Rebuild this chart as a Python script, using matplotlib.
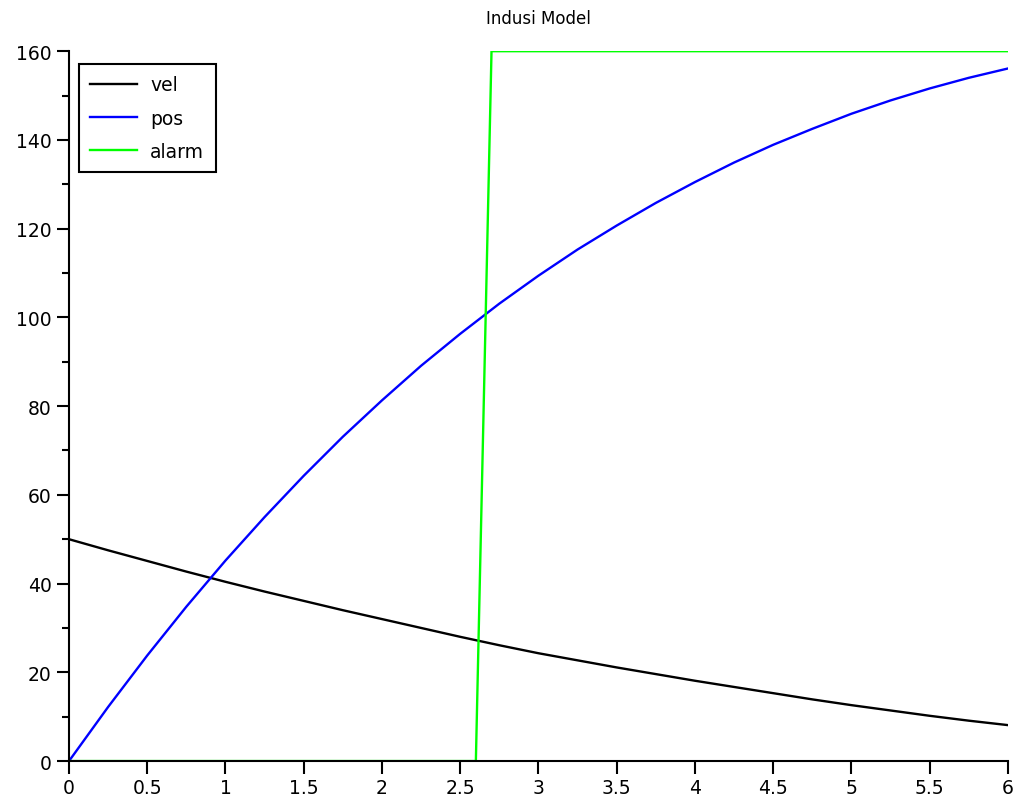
import numpy as np
import matplotlib
matplotlib.use("Agg")
import matplotlib.pyplot as plt
from matplotlib.ticker import MultipleLocator, FuncFormatter

# time axis (s)
t = [0, 0.25, 0.5, 0.75, 1, 1.25, 1.5, 1.75, 2, 2.25, 2.5, 2.75, 3,
     3.25, 3.5, 3.75, 4, 4.25, 4.5, 4.75, 5, 5.25, 5.5, 5.75, 6]
vel = [50, 47.5, 45.1, 42.7, 40.4, 38.2, 36.1, 34.0, 32.0, 30.0, 28.0, 26.1, 24.3,
       22.7, 21.1, 19.6, 18.1, 16.7, 15.3, 13.9, 12.6, 11.4, 10.2, 9.1, 8.1]
pos = [0, 12.2, 23.8, 34.8, 45.2, 55.0, 64.3, 73.1, 81.3, 89.1, 96.3, 103.1, 109.4,
       115.3, 120.7, 125.8, 130.5, 134.9, 138.9, 142.5, 145.9, 148.9, 151.6, 154.0, 156.1]

# alarm switches on between two samples
t_alarm = [0, 2.6, 2.7, 6]
alarm = [0, 0, 160, 160]

fig = plt.figure(figsize=(10.15, 8.03), dpi=100)
ax = fig.add_axes([0.068, 0.051, 0.925, 0.884])

ax.plot(t, vel, color='black', linewidth=1.7, label='vel')
ax.plot(t, pos, color='#0000ff', linewidth=1.7, label='pos')
ax.plot(t_alarm, alarm, color='#00ff00', linewidth=1.7, label='alarm')

ax.set_xlim(0, 6)
ax.set_ylim(0, 160)
ax.set_title('Indusi Model', fontsize=12, pad=20)

for side in ['top', 'right']:
    ax.spines[side].set_visible(False)
for side in ['left', 'bottom']:
    ax.spines[side].set_linewidth(1.5)

ax.xaxis.set_major_locator(MultipleLocator(0.5))
ax.yaxis.set_major_locator(MultipleLocator(20))
ax.yaxis.set_minor_locator(MultipleLocator(10))
ax.xaxis.set_major_formatter(FuncFormatter(lambda v, p: f'{v:g}'))
ax.tick_params(axis='both', which='major', length=9, width=1.5, labelsize=13.5, direction='out')
ax.tick_params(axis='y', which='minor', length=5, width=1.5, direction='out')

leg = ax.legend(loc='upper left', bbox_to_anchor=(10 / 939, 1 - 13 / 710), borderaxespad=0,
                fontsize=13.5, frameon=True, fancybox=False,
                handlelength=2.5, handletextpad=0.7, borderpad=0.6, labelspacing=0.75)
leg.get_frame().set_edgecolor('black')
leg.get_frame().set_linewidth(1.5)
leg.get_frame().set_alpha(1)

fig.savefig('out.png', dpi=100)
